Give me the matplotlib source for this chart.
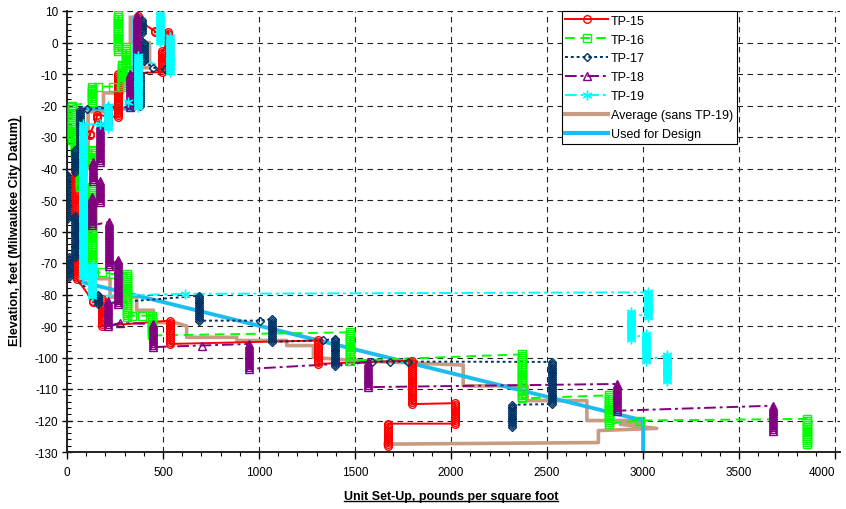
import matplotlib.pyplot as plt
import numpy as np
from matplotlib.lines import Line2D
from matplotlib.ticker import MultipleLocator

plt.rcParams['font.family'] = ['Liberation Sans', 'DejaVu Sans']
plt.rcParams['axes.unicode_minus'] = False

# each pile: set-up value and the elevation range it holds over (top, bottom)
tp15_x   = [371, 458, 528, 493, 267, 155, 120, 45, 65, 50, 135, 180, 536, 1309, 1795, 2020, 1672]
tp15_top = [8.5, 3.6, 3.3, -2.6, -10, -23, -29, -35, -55, -68, -82, -81.4, -88.3, -94.6, -101, -114.5, -121]
tp15_bot = [7.0, 3.2, -1, -9.4, -23.7, -24, -29.5, -55, -68, -75, -82.5, -90, -95.7, -102, -114.8, -121, -128]

tp16_x   = [267, 307, 285, 240, 160, 128, 24, 42, 128, 70, 128, 180, 241, 311, 337, 389, 441, 1474, 2368, 2820, 2985, 3852]
tp16_top = [8.7, -1.4, -7, -14, -14, -14, -20, -31, -34, -40, -46, -73, -73.5, -73.5, -86.7, -86.7, -86.7, -92, -99, -112, -120, -119.5]
tp16_bot = [-2.6, -9.4, -14, -14, -14, -19, -31, -35, -38, -46, -73, -73, -73.5, -87, -86.7, -86.7, -93, -101, -113, -121, -120, -127.5]

tp17_x   = [389, 400, 450, 510, 380, 343, 102, 68, 42, 0, 42, 10, 160, 688, 1005, 1066, 1335, 1396, 1587, 1682, 1776, 2524, 2318]
tp17_top = [7, 0, -8, -8.4, -10, -20.5, -21, -21.5, -34, -42, -55, -68, -80, -80.4, -88.3, -87.8, -94.6, -94, -101.3, -101.3, -101.3, -101.4, -115]
tp17_bot = [3, -6, -8, -8.4, -20, -20.5, -21, -33, -41, -56, -68, -74.4, -83, -88.3, -88.3, -95, -94.6, -102.7, -101.3, -101.3, -101.3, -114.8, -122]

tp18_x   = [362, 328, 215, 172, 136, 172, 132, 220, 267, 215, 276, 446, 701, 950, 1569, 2866, 3675]
tp18_top = [8.5, -10, -20.5, -26, -38, -44, -49, -57, -69, -82, -89, -89.4, -96.2, -95.7, -101.5, -108.4, -115.3]
tp18_bot = [-9.4, -20.5, -25, -38, -44, -50.6, -58, -71, -83, -90, -89, -96.7, -96.2, -103.6, -109.4, -116.9, -123.2]

tp19_x   = [484, 536, 372, 319, 215, 172, 85, 128, 615, 3023, 2936, 3016, 3123]
tp19_top = [9, 1.7, -4.3, -19, -20, -26, -26, -71, -79.8, -79.3, -85.6, -92.5, -99.2]
tp19_bot = [0.2, -9.4, -20.5, -19, -27, -26, -74.4, -80.5, -79.8, -87.2, -94, -101, -107.4]

avg_x = [330, 330, 430, 430, 290, 290, 190, 190, 110, 110, 85, 85, 224, 224, 363, 363, 450, 450,
         562, 623, 623, 884, 884, 1144, 1144, 1283, 1283, 1500, 2063, 2063, 2396, 2396, 2707, 2707,
         2985, 2985, 2880, 3071, 2767, 2767, 1656]
avg_y = [8, 0, 0, -8, -8, -16, -16, -22, -22, -40, -40, -75, -75, -80.8, -80.8, -85, -85, -88.9,
         -88.9, -90, -93.6, -93.6, -94.6, -94.6, -96.2, -96.2, -100, -101, -102.4, -109, -109, -113.7, -113.7, -120,
         -120, -121, -121.2, -122.5, -123.2, -127, -127.5]

design_x = [350, 350, 75, 75, 3000, 3000]
design_y = [8, -21, -21, -76, -120, -130]


def profile(xs, tops, bots):
    lx, ly = [], []
    for x, t, b in zip(xs, tops, bots):
        lx += [x, x]
        ly += [t, b]
    return lx, ly


def readings(xs, tops, bots, step=0.6):
    mx, my = [], []
    for x, t, b in zip(xs, tops, bots):
        n = max(1, int(round((t - b) / step)) + 1)
        ys = np.linspace(t, b, n)
        mx += [x] * n
        my += list(ys)
    return mx, my


fig = plt.figure(figsize=(8.46, 5.10), dpi=100)
ax = fig.add_axes([67 / 846, 1 - 453 / 510, (840 - 67) / 846, (453 - 12) / 510])

avg_col = '#C89C82'
des_col = '#1CBDEE'
ax.plot(avg_x, avg_y, color=avg_col, lw=2.6, zorder=2)
ax.plot(design_x, design_y, color=des_col, lw=2.8, zorder=2)

piles = [
    ('TP-15', tp15_x, tp15_top, tp15_bot, '#FF0000', '-', 'o', 5.5),
    ('TP-16', tp16_x, tp16_top, tp16_bot, '#00FF00', (0, (5, 3)), 's', 6),
    ('TP-17', tp17_x, tp17_top, tp17_bot, '#003366', (0, (1.5, 1.5)), 'D', 4.5),
    ('TP-18', tp18_x, tp18_top, tp18_bot, '#800080', (0, (6, 2, 1.5, 2)), '^', 5.5),
    ('TP-19', tp19_x, tp19_top, tp19_bot, '#00FFFF', (0, (6, 2, 1.5, 2)), (6, 2, 0), 7),
]

handles = []
for name, xs, tops, bots, col, ls, mk, ms in piles:
    lx, ly = profile(xs, tops, bots)
    ax.plot(lx, ly, color=col, ls=ls, lw=1.4, zorder=3)
    mx, my = readings(xs, tops, bots)
    ax.plot(mx, my, ls='none', marker=mk, ms=ms, mfc='none', mec=col, mew=1.0, zorder=4)
    handles.append(Line2D([], [], color=col, ls=ls, lw=1.4, marker=mk, ms=ms,
                          mfc='none', mec=col, mew=1.0, label=name))
handles.append(Line2D([], [], color=avg_col, lw=3, label='Average (sans TP-19)'))
handles.append(Line2D([], [], color=des_col, lw=3, label='Used for Design'))

ax.set_xlim(0, 4025)
ax.set_ylim(-130, 10)
ax.set_xticks(np.arange(0, 4001, 500))
ax.set_yticks(np.arange(-130, 11, 10))
ax.xaxis.set_minor_locator(MultipleLocator(100))
ax.yaxis.set_minor_locator(MultipleLocator(2))
ax.grid(which='major', color='#222222', ls=(0, (5, 4)), lw=0.8, zorder=0)
ax.set_axisbelow(True)
for s in ['top', 'right']:
    ax.spines[s].set_visible(False)
for s in ['left', 'bottom']:
    ax.spines[s].set_linewidth(1.4)
    ax.spines[s].set_color('#222222')
ax.tick_params(axis='x', which='major', direction='out', length=5, width=1, labelsize=8.5, pad=5)
ax.tick_params(axis='x', which='minor', direction='out', length=3, width=0.8)
ax.tick_params(axis='y', which='major', direction='inout', length=7, width=1, labelsize=8.5, pad=3)
ax.tick_params(axis='y', which='minor', direction='in', length=3, width=0.8)
ax.get_xticklabels()[-1].set_horizontalalignment('right')

xl = fig.text(451 / 846, 1 - 497 / 510, 'Unit Set-Up, pounds per square foot', fontsize=9,
              fontweight='bold', ha='center', va='center')
yl = fig.text(15 / 846, 1 - 232 / 510, 'Elevation, feet (Milwaukee City Datum)', fontsize=9,
              fontweight='bold', ha='center', va='center', rotation=90)

leg = ax.legend(handles=handles, loc='upper left', bbox_to_anchor=(0.640, 1.0), fontsize=9,
                frameon=True, fancybox=False, edgecolor='black', framealpha=1,
                handlelength=3.4, handletextpad=0.25, labelspacing=0.55, borderpad=0.3,
                borderaxespad=0)
leg.get_frame().set_linewidth(0.8)
leg.set_zorder(10)

# underline the axis titles
fig.canvas.draw()
r = fig.canvas.get_renderer()
inv = fig.transFigure.inverted()
bb = xl.get_window_extent(r)
(x0, y0), (x1, _) = inv.transform([(bb.x0, bb.y0 + 1), (bb.x1, bb.y0 + 1)])
fig.add_artist(Line2D([x0, x1], [y0, y0], color='black', lw=1))
bb = yl.get_window_extent(r)
(x0, y0), (_, y1) = inv.transform([(bb.x1 - 1, bb.y0), (bb.x1 - 1, bb.y1)])
fig.add_artist(Line2D([x0, x0], [y0, y1], color='black', lw=1))

fig.savefig('out.png', dpi=100)
